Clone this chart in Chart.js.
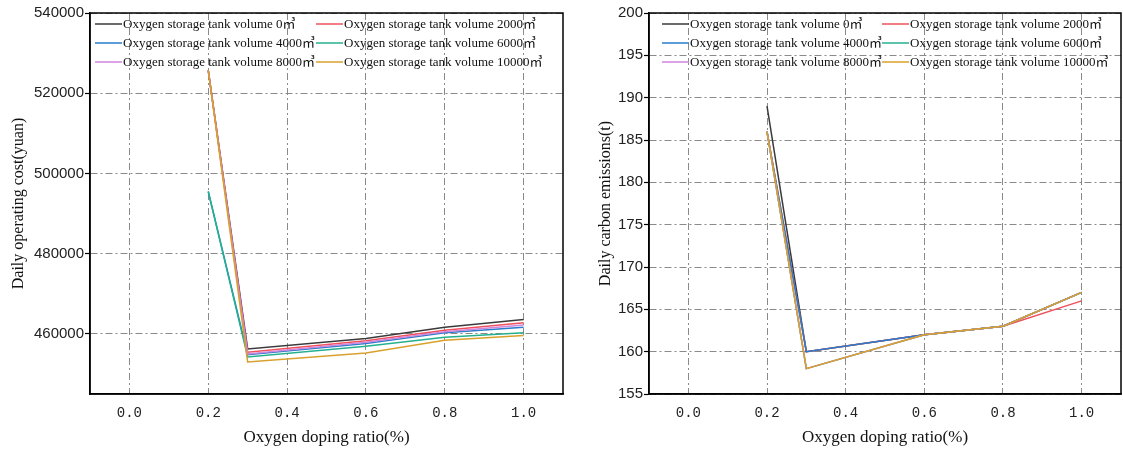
<!DOCTYPE html>
<html><head><meta charset="utf-8">
<script src="https://cdn.jsdelivr.net/npm/chart.js@4.4.1/dist/chart.umd.min.js"></script>
<style>
html,body{margin:0;padding:0;background:#fff;width:1123px;height:450px;overflow:hidden}
#w1{position:absolute;left:0;top:0;width:590px;height:450px}
#w2{position:absolute;left:590px;top:0;width:533px;height:450px}
</style></head><body>
<div id="w1"><canvas id="c1" width="590" height="450"></canvas></div>
<div id="w2"><canvas id="c2" width="533" height="450"></canvas></div>
<script>
// ---- data ----
const seriesLabels = [
  'Oxygen storage tank volume 0\u33A5',
  'Oxygen storage tank volume 2000\u33A5',
  'Oxygen storage tank volume 4000\u33A5',
  'Oxygen storage tank volume 6000\u33A5',
  'Oxygen storage tank volume 8000\u33A5',
  'Oxygen storage tank volume 10000\u33A5'
];
const seriesColors = ['#3a3a3a', '#f0505a', '#2a7ccc', '#24b08e', '#cf86dc', '#d9a02c'];
const ratioX = [0.2, 0.3, 0.6, 0.8, 1.0];
const xTicks = [0.0, 0.2, 0.4, 0.6, 0.8, 1.0];

// Daily operating cost (yuan)
const cost0     = [525700, 456250, 458830, 461650, 463580];
const cost2000  = [525700, 455400, 458250, 460900, 462750];
const cost4000  = [495500, 454800, 457580, 460250, 461650];
const cost6000  = [495500, 454250, 456900, 459150, 460250];
const cost8000  = [525700, 455000, 457900, 460550, 462200];
const cost10000 = [525700, 453000, 455250, 458400, 459580];
const costTicks = [460000, 480000, 500000, 520000, 540000];

// Daily carbon emissions (t)
const carbon0     = [189, 160, 162, 163, 167];
const carbon2000  = [186, 160, 162, 163, 166];
const carbon4000  = [186, 160, 162, 163, 167];
const carbon6000  = [186, 158, 162, 163, 167];
const carbon8000  = [186, 158, 162, 163, 167];
const carbon10000 = [186, 158, 162, 163, 167];
const carbonTicks = [155, 160, 165, 170, 175, 180, 185, 190, 195, 200];

const costSeries = [cost0, cost2000, cost4000, cost6000, cost8000, cost10000];
const carbonSeries = [carbon0, carbon2000, carbon4000, carbon6000, carbon8000, carbon10000];

function makeDatasets(series){
  return series.map((vals, i) => ({
    label: seriesLabels[i],
    data: vals.map((v, j) => ({x: ratioX[j], y: v})),
    borderColor: seriesColors[i],
    backgroundColor: seriesColors[i],
    borderWidth: 1.5,
    pointRadius: 0,
    tension: 0,
    fill: false,
    order: series.length - i
  }));
}

const GRIDDASH = [7, 3, 2, 3];

const boxLegend = {
  id: 'boxLegend',
  afterDraw(chart, args, opts){
    const ctx = chart.ctx, a = chart.chartArea;
    ctx.save();
    ctx.font = '13px "Liberation Serif", "Noto Sans CJK SC", serif';
    ctx.textBaseline = 'middle';
    ctx.textAlign = 'left';
    chart.data.datasets.forEach((ds, i) => {
      const col = i % 2, row = Math.floor(i / 2);
      const x0 = a.left + opts.colX[col];
      const y = a.top + opts.rowY[row];
      ctx.strokeStyle = ds.borderColor;
      ctx.lineWidth = 1.5;
      ctx.setLineDash([]);
      ctx.beginPath(); ctx.moveTo(x0, y); ctx.lineTo(x0 + 27, y); ctx.stroke();
      ctx.fillStyle = '#111';
      ctx.fillText(ds.label, x0 + 28, y + 1);
    });
    ctx.strokeStyle = '#000';
    ctx.lineWidth = 1.5;
    ctx.strokeRect(a.left, a.top, a.right - a.left, a.bottom - a.top);
    ctx.restore();
  }
};

function makeChart(canvasId, series, yMin, yMax, yTicks, yTitle, yWidth, pad, titlePad, legendCols){
  return new Chart(document.getElementById(canvasId), {
    type: 'line',
    data: {datasets: makeDatasets(series)},
    plugins: [boxLegend],
    options: {
      responsive: false,
      animation: false,
      devicePixelRatio: 1,
      layout: {padding: pad},
      plugins: {
        legend: {display: false},
        tooltip: {enabled: false},
        boxLegend: {colX: legendCols, rowY: [11, 30, 49]}
      },
      scales: {
        x: {
          type: 'linear', min: -0.1, max: 1.1,
          afterBuildTicks: s => { s.ticks = xTicks.map(v => ({value: v})); },
          afterFit: s => { s.height = 56; },
          grid: {color: '#8a8a8a', lineWidth: 1, drawTicks: false},
          border: {display: true, color: '#000', width: 1.5, dash: GRIDDASH},
          ticks: {font: {family: 'Liberation Mono', size: 14}, color: '#222', padding: 11,
                  callback: v => Number(v).toFixed(1)},
          title: {display: true, text: 'Oxygen doping ratio(%)', color: '#111',
                  font: {family: 'Liberation Serif', size: 17}, padding: {top: 0, bottom: 2}}
        },
        y: {
          type: 'linear', min: yMin, max: yMax,
          afterBuildTicks: s => { s.ticks = yTicks.map(v => ({value: v})); },
          afterFit: s => { s.width = yWidth; },
          grid: {color: '#8a8a8a', lineWidth: 1, drawTicks: true, tickLength: 5,
                 tickColor: '#000', tickWidth: 1.2, tickBorderDash: []},
          border: {display: true, color: '#000', width: 1.5, dash: GRIDDASH},
          ticks: {font: {family: 'Liberation Sans', size: 15}, color: '#222', padding: 1,
                  callback: v => String(v)},
          title: {display: true, text: yTitle, color: '#111',
                  font: {family: 'Liberation Serif', size: 16}, padding: titlePad}
        }
      }
    }
  });
}

makeChart('c1', costSeries, 445000, 540000, costTicks, 'Daily operating cost(yuan)', 90,
          {left: 0, top: 13, right: 27, bottom: 0}, {top: 9, bottom: 0}, [5, 226]);
makeChart('c2', carbonSeries, 155, 200, carbonTicks, 'Daily carbon emissions(t)', 59,
          {left: 0, top: 13, right: 2, bottom: 0}, {top: 6, bottom: 0}, [13, 233]);
</script>
</body></html>
